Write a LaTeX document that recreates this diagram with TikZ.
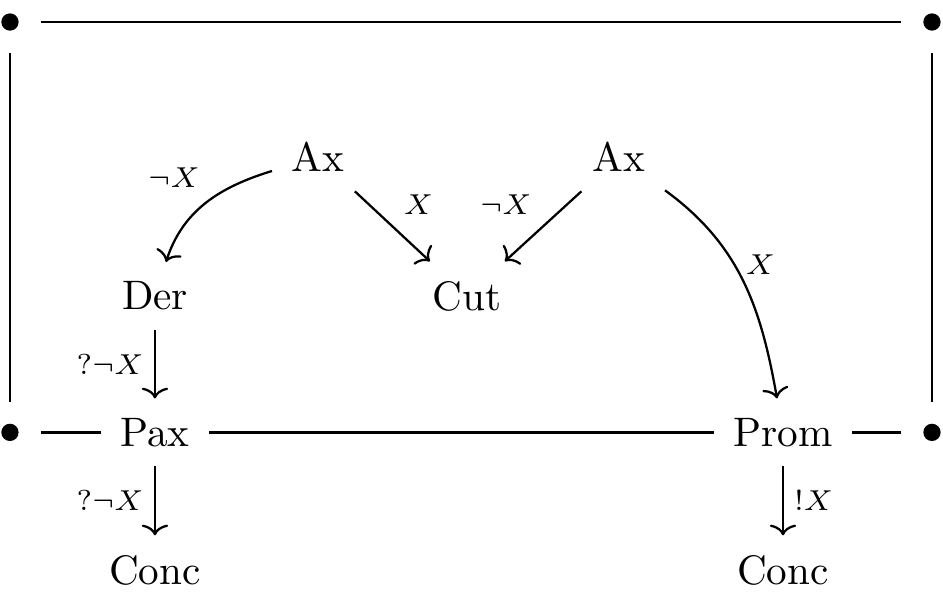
\documentclass[tikz,border=0pt]{standalone}
\usepackage{amsmath}
\usetikzlibrary{arrows.meta}

\begin{document}
\begin{tikzpicture}[
			obj/.style={inner sep=4.5pt},
			pole/.style={
				circle,
				minimum size=14.4pt,
				inner sep=0pt,
				path picture={\fill (path picture bounding box.center) circle (2.1pt);}},
			lab/.style={font=\scriptsize, inner sep=2.5pt},
			line width=0.55pt,
			>={Computer Modern Rightarrow[length=2.6pt,width=6.4pt]}]
			
			\useasboundingbox (0,0) rectangle (8.045,5.059);
			
			\node[pole] (tl) at (0.085,4.871) {};
			\node[pole] (tr) at (7.951,4.871) {};
			\node[pole] (bl) at (0.085,1.370) {};
			\node[pole] (br) at (7.951,1.370) {};
			
			\node[obj] (ax1) at (2.713,3.720) {Ax};
			\node[obj] (ax2) at (5.281,3.720) {Ax};
			
			\node[obj] (der) at (1.322,2.534) {Der};
			\node[obj] (cut) at (3.984,2.534) {Cut};
			
			\node[obj] (pax) at (1.322,1.370) {Pax};
			\node[obj] (prom) at (6.680,1.370) {Prom};
			
			\node[obj] (concl) at (1.322,0.196) {Conc};
			\node[obj] (concr) at (6.680,0.196) {Conc};
			
			% frame
			\draw (tl)--(tr);
			\draw (tl)--(bl);
			\draw (tr)--(br);
			\draw (bl)--(pax);
			\draw (pax)--(prom);
			\draw (prom)--(br);
			
			\draw[->] (ax1) to[out=197,in=72] node[lab,above left,pos=0.45] {$\neg X$} (der);
			\draw[->] (ax1)--node[lab,above right] {$X$} (cut);
			\draw[->] (ax2)--node[lab,above left] {$\neg X$} (cut);
			\draw[->] (ax2) to[out=-36,in=100] node[lab,right,pos=0.42] {$X$} (prom);
			
			\draw[->] (der)--node[lab,left] {$?\neg X$} (pax);
			\draw[->] (pax)--node[lab,left] {$?\neg X$} (concl);
			\draw[->] (prom)--node[lab,right] {$!X$} (concr);
			
		\end{tikzpicture}
\end{document}
